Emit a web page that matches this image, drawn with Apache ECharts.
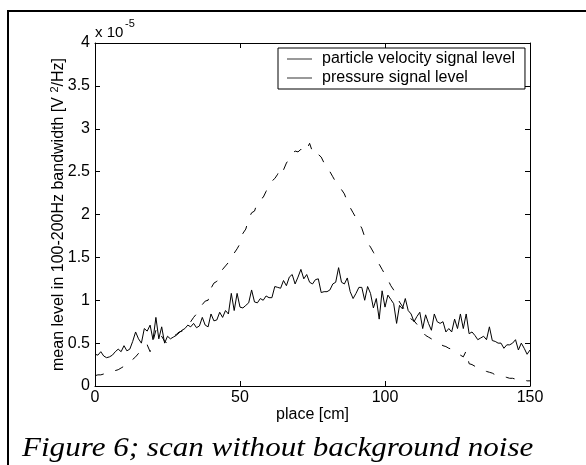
<!DOCTYPE html>
<html>
<head>
<meta charset="utf-8">
<script src="https://cdn.jsdelivr.net/npm/echarts@6/dist/echarts.min.js"></script>
<style>
html, body { margin: 0; padding: 0; background: #fff; }
#chart { width: 586px; height: 465px; }
</style>
</head>
<body>
<div id="chart"></div>
<script>
// place along the scan [cm]
var place = [
  0, 1, 2, 3, 4, 5, 6, 7, 8, 9,
  10, 11, 12, 13, 14, 15, 16, 17, 18, 19,
  20, 21, 22, 23, 24, 25, 26, 27, 28, 29,
  30, 31, 32, 33, 34, 35, 36, 37, 38, 39,
  40, 41, 42, 43, 44, 45, 46, 47, 48, 49,
  50, 51, 52, 53, 54, 55, 56, 57, 58, 59,
  60, 61, 62, 63, 64, 65, 66, 67, 68, 69,
  70, 71, 72, 73, 74, 75, 76, 77, 78, 79,
  80, 81, 82, 83, 84, 85, 86, 87, 88, 89,
  90, 91, 92, 93, 94, 95, 96, 97, 98, 99,
  100, 101, 102, 103, 104, 105, 106, 107, 108, 109,
  110, 111, 112, 113, 114, 115, 116, 117, 118, 119,
  120, 121, 122, 123, 124, 125, 126, 127, 128, 129,
  130, 131, 132, 133, 134, 135, 136, 137, 138, 139,
  140, 141, 142, 143, 144, 145, 146, 147, 148, 149,
  150
];
// particle velocity signal level (x 1e-5 V^2/Hz), dashed
var velocity = [
  0.12, 0.13, 0.13, 0.14, 0.14, 0.15, 0.16, 0.18, 0.19, 0.21,
  0.23, 0.26, 0.28, 0.31, 0.34, 0.38, 0.42, 0.43, 0.48, 0.40,
  0.52, 0.65, 0.55, 0.58, 0.52, 0.50, 0.54, 0.58, 0.60, 0.63,
  0.64, 0.66, 0.70, 0.75, 0.80, 0.84, 0.89, 0.95, 0.99, 1.00,
  1.14, 1.20, 1.22, 1.28, 1.36, 1.40, 1.44, 1.47, 1.55, 1.60,
  1.66, 1.78, 1.83, 1.95, 2.02, 2.04, 2.14, 2.18, 2.20, 2.27,
  2.35, 2.39, 2.42, 2.47, 2.56, 2.52, 2.60, 2.65, 2.71, 2.74,
  2.73, 2.76, 2.72, 2.76, 2.83, 2.73, 2.75, 2.70, 2.67, 2.60,
  2.58, 2.50, 2.44, 2.38, 2.34, 2.29, 2.24, 2.15, 2.08, 2.02,
  1.96, 1.90, 1.84, 1.74, 1.67, 1.62, 1.56, 1.50, 1.42, 1.36,
  1.30, 1.24, 1.17, 1.12, 1.05, 0.98, 0.93, 0.87, 0.83, 0.78,
  0.76, 0.72, 0.68, 0.63, 0.59, 0.57, 0.55, 0.53, 0.50, 0.49,
  0.47, 0.46, 0.44, 0.43, 0.40, 0.38, 0.36, 0.34, 0.41, 0.26,
  0.25, 0.23, 0.21, 0.19, 0.18, 0.17, 0.16, 0.15, 0.13, 0.12,
  0.12, 0.11, 0.10, 0.09, 0.09, 0.08, 0.08, 0.07, 0.07, 0.06,
  0.06
];
// pressure signal level (x 1e-5 V^2/Hz), solid
var pressure = [
  0.37, 0.36, 0.40, 0.35, 0.33, 0.34, 0.36, 0.40, 0.43, 0.40,
  0.47, 0.41, 0.43, 0.52, 0.63, 0.55, 0.50, 0.67, 0.64, 0.71,
  0.54, 0.80, 0.55, 0.69, 0.50, 0.58, 0.55, 0.57, 0.59, 0.62,
  0.65, 0.67, 0.71, 0.69, 0.73, 0.68, 0.70, 0.80, 0.71, 0.69,
  0.84, 0.76, 0.77, 0.86, 0.80, 0.88, 0.84, 1.08, 0.88, 1.08,
  0.92, 0.91, 0.94, 0.97, 1.12, 0.98, 0.97, 1.02, 1.00, 1.05,
  1.03, 1.03, 1.16, 1.15, 1.14, 1.23, 1.17, 1.27, 1.30, 1.19,
  1.27, 1.36, 1.25, 1.30, 1.21, 1.19, 1.24, 1.25, 1.09, 1.10,
  1.10, 1.12, 1.19, 1.21, 1.38, 1.21, 1.19, 1.26, 1.10, 1.02,
  1.08, 1.15, 1.15, 1.00, 1.16, 1.08, 0.91, 1.02, 0.78, 1.11,
  0.92, 1.06, 1.01, 0.96, 0.73, 0.94, 0.90, 1.02, 0.88, 0.84,
  0.75, 0.81, 0.86, 0.67, 0.83, 0.73, 0.65, 0.84, 0.75, 0.73,
  0.75, 0.63, 0.67, 0.63, 0.78, 0.67, 0.84, 0.67, 0.84, 0.61,
  0.63, 0.59, 0.54, 0.56, 0.58, 0.54, 0.69, 0.53, 0.52, 0.50,
  0.50, 0.44, 0.48, 0.48, 0.50, 0.54, 0.42, 0.50, 0.44, 0.37,
  0.42
];
var legendNames = ['particle velocity signal level', 'pressure signal level'];
var xTicks = [0, 50, 100, 150];
var yTicks = [0, 0.5, 1, 1.5, 2, 2.5, 3, 3.5, 4];

var sans = 'Liberation Sans';

function pairs(xs, ys) {
  var res = [];
  for (var i = 0; i < xs.length; i++) res.push([xs[i], ys[i]]);
  return res;
}

function boxAxis(extra) {
  var a = {
    type: 'value',
    axisLine: { show: true, onZero: false, lineStyle: { color: '#000', width: 1 } },
    axisTick: { show: true, inside: true, length: 5, lineStyle: { color: '#000' } },
    axisLabel: { show: false },
    splitLine: { show: false }
  };
  for (var k in extra) a[k] = extra[k];
  return a;
}

var chart = echarts.init(document.getElementById('chart'));
var option = {
  animation: false,
  backgroundColor: '#fff',
  grid: { left: 95, top: 43, width: 435, height: 343, containLabel: false },
  legend: {
    left: 278,
    top: 48,
    orient: 'vertical',
    icon: 'rect',
    itemWidth: 25,
    itemHeight: 1,
    itemGap: 3,
    padding: [3, 10, 3, 9],
    borderColor: '#000',
    borderWidth: 1,
    borderRadius: 0,
    backgroundColor: '#fff',
    selectedMode: false,
    itemStyle: { color: '#333' },
    textStyle: { color: '#000', fontSize: 16, fontFamily: sans, padding: [0, 0, 0, 5] },
    data: legendNames
  },
  xAxis: [
    boxAxis({
      position: 'bottom',
      min: xTicks[0], max: xTicks[xTicks.length - 1], interval: 50,
      axisLabel: { show: true, color: '#000', fontSize: 16, fontFamily: sans, margin: 4 },
      name: 'place [cm]',
      nameLocation: 'middle',
      nameGap: 21,
      nameMoveOverlap: false,
      nameTextStyle: { color: '#000', fontSize: 16, fontFamily: sans }
    }),
    boxAxis({ position: 'top', min: 0, max: 150, interval: 50 })
  ],
  yAxis: [
    boxAxis({
      position: 'left',
      min: yTicks[0], max: yTicks[yTicks.length - 1], interval: 0.5,
      axisLabel: { show: true, color: '#000', fontSize: 16, fontFamily: sans, margin: 5 },
      name: 'mean level in 100-200Hz bandwidth [V {sup|2}/Hz]',
      nameLocation: 'middle',
      nameRotate: 90,
      nameGap: 27,
      nameMoveOverlap: false,
      nameTextStyle: {
        color: '#000', fontSize: 16, fontFamily: sans, lineHeight: 19,
        rich: { sup: { fontSize: 11, fontFamily: sans, color: '#000', verticalAlign: 'top', lineHeight: 19 } }
      }
    }),
    boxAxis({ position: 'right', min: 0, max: 4, interval: 0.5 })
  ],
  series: [
    {
      name: legendNames[0],
      type: 'line',
      data: pairs(place, velocity),
      symbol: 'none',
      itemStyle: { color: '#000' },
      lineStyle: { color: '#000', width: 1, type: [9, 12] }
    },
    {
      name: legendNames[1],
      type: 'line',
      data: pairs(place, pressure),
      symbol: 'none',
      itemStyle: { color: '#000' },
      lineStyle: { color: '#000', width: 1 }
    }
  ],
  graphic: [
    {
      type: 'rect', silent: true,
      shape: { x: 8, y: 11, width: 700, height: 600 },
      style: { fill: 'none', stroke: '#000', lineWidth: 2 }
    },
    {
      type: 'text', x: 95, y: 33, silent: true,
      style: { text: 'x 10', fill: '#000', fontSize: 15, fontFamily: sans, verticalAlign: 'middle' }
    },
    {
      type: 'text', x: 125, y: 24, silent: true,
      style: { text: '-5', fill: '#000', fontSize: 11, fontFamily: sans, verticalAlign: 'middle' }
    },
    {
      type: 'text', x: 22, y: 449, scaleX: 1.11, silent: true,
      style: {
        text: 'Figure 6; scan without background noise', fill: '#000',
        fontSize: 28, fontStyle: 'italic', fontFamily: 'Liberation Serif', verticalAlign: 'middle'
      }
    }
  ]
};
chart.setOption(option);
</script>
</body>
</html>
